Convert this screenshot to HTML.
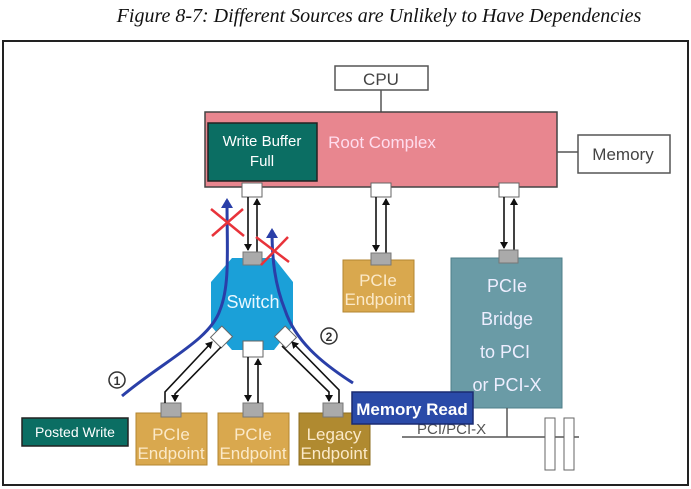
<!DOCTYPE html>
<html><head><meta charset="utf-8"><style>
html,body{margin:0;padding:0;background:#fff;}
svg{display:block;}
text{font-family:"Liberation Sans",sans-serif;}
</style></head><body>
<svg width="691" height="489" viewBox="0 0 691 489" xmlns="http://www.w3.org/2000/svg">
<defs>
<marker id="ah" markerWidth="8" markerHeight="8" refX="6" refY="4" orient="auto" markerUnits="userSpaceOnUse"><path d="M0,0 L7,4 L0,8 Z" fill="#111"/></marker>
<marker id="bh" markerWidth="12" markerHeight="12" refX="8" refY="6" orient="auto" markerUnits="userSpaceOnUse"><path d="M0,0 L10,6 L0,12 Z" fill="#2a3fa8"/></marker>
</defs>
<text x="379" y="22" text-anchor="middle" font-style="italic" font-size="20" fill="#111" style="font-family:'Liberation Serif',serif">Figure 8-7: Different Sources are Unlikely to Have Dependencies</text>
<rect x="3" y="41" width="685" height="444" fill="#fff" stroke="#222" stroke-width="2"/>
<!-- CPU -->
<rect x="335" y="66" width="93" height="24" fill="#fff" stroke="#555" stroke-width="1.5"/>
<text x="381" y="85" text-anchor="middle" font-size="17" fill="#444">CPU</text>
<line x1="381" y1="90" x2="381" y2="112" stroke="#555" stroke-width="1.5"/>
<!-- Root complex -->
<rect x="205" y="112" width="352" height="75" fill="#e8868f" stroke="#444" stroke-width="1.5"/>
<rect x="208" y="123" width="109" height="58" fill="#0b6e63" stroke="#222" stroke-width="1.5"/>
<text x="262" y="146" text-anchor="middle" font-size="15" fill="#fff">Write Buffer</text>
<text x="262" y="166" text-anchor="middle" font-size="15" fill="#fff">Full</text>
<text x="382" y="148" text-anchor="middle" font-size="17" fill="#fde">Root Complex</text>
<line x1="557" y1="152" x2="578" y2="152" stroke="#555" stroke-width="1.5"/>
<rect x="578" y="135" width="92" height="38" fill="#fff" stroke="#555" stroke-width="1.5"/>
<text x="623" y="160" text-anchor="middle" font-size="17" fill="#444">Memory</text>
<!-- root ports -->
<rect x="242" y="183" width="20" height="14" fill="#fff" stroke="#666"/>
<rect x="371" y="183" width="20" height="14" fill="#fff" stroke="#666"/>
<rect x="499" y="183" width="20" height="14" fill="#fff" stroke="#666"/>
<g stroke="#111" stroke-width="1.6">
<line x1="248" y1="197" x2="248" y2="250" marker-end="url(#ah)"/>
<line x1="257" y1="252" x2="257" y2="199" marker-end="url(#ah)"/>
<line x1="376" y1="197" x2="376" y2="251" marker-end="url(#ah)"/>
<line x1="386" y1="253" x2="386" y2="199" marker-end="url(#ah)"/>
<line x1="504" y1="197" x2="504" y2="248" marker-end="url(#ah)"/>
<line x1="514" y1="250" x2="514" y2="199" marker-end="url(#ah)"/>
</g>
<!-- middle endpoint -->
<rect x="343" y="260" width="71" height="52" fill="#d9a84e" stroke="#b38630"/>
<rect x="371" y="253" width="20" height="12" fill="#aaa" stroke="#777"/>
<text x="378" y="286" text-anchor="middle" font-size="17" fill="#fbe9c8">PCIe</text>
<text x="378" y="305" text-anchor="middle" font-size="17" fill="#fbe9c8">Endpoint</text>
<!-- bridge -->
<rect x="451" y="258" width="111" height="150" fill="#6a9ba6" stroke="#4f7f89"/>
<rect x="499" y="250" width="19" height="13" fill="#aaa" stroke="#777"/>
<g font-size="18" fill="#eef" text-anchor="middle">
<text x="507" y="292">PCIe</text><text x="507" y="325">Bridge</text><text x="505" y="358">to PCI</text><text x="507" y="391">or PCI-X</text></g>
<line x1="507" y1="408" x2="507" y2="437" stroke="#555" stroke-width="1.5"/>
<line x1="402" y1="437" x2="579" y2="437" stroke="#555" stroke-width="1.5"/>
<text x="417" y="434" font-size="15" fill="#555">PCI/PCI-X</text>
<rect x="545" y="418" width="10" height="52" fill="#fff" stroke="#666"/>
<rect x="564" y="418" width="10" height="52" fill="#fff" stroke="#666"/>
<!-- switch -->
<polygon points="232,258 274,258 293,282 293,326 274,350 232,350 211,326 211,282" fill="#1ba0d8"/>
<text x="253" y="308" text-anchor="middle" font-size="18" fill="#eaf8ff">Switch</text>
<rect x="243" y="252" width="19" height="13" fill="#aaa" stroke="#777"/>
<rect x="243" y="341" width="20" height="16" fill="#fff" stroke="#666"/>
<rect x="214" y="329" width="15" height="16" fill="#fff" stroke="#666" transform="rotate(45 221.5 337)"/>
<rect x="278" y="329" width="15" height="16" fill="#fff" stroke="#666" transform="rotate(-45 285.5 337)"/>
<!-- bottom endpoints -->
<rect x="136" y="413" width="71" height="52" fill="#d9a84e" stroke="#b38630"/>
<rect x="218" y="413" width="71" height="52" fill="#d9a84e" stroke="#b38630"/>
<rect x="299" y="413" width="71" height="52" fill="#b08a30" stroke="#8c6c1f"/>
<g font-size="17" fill="#fbe9c8" text-anchor="middle">
<text x="171" y="440">PCIe</text><text x="171" y="459">Endpoint</text>
<text x="253" y="440">PCIe</text><text x="253" y="459">Endpoint</text>
<text x="334" y="440">Legacy</text><text x="334" y="459">Endpoint</text></g>
<rect x="161" y="403" width="20" height="14" fill="#aaa" stroke="#777"/>
<rect x="243" y="403" width="20" height="14" fill="#aaa" stroke="#777"/>
<rect x="323" y="403" width="20" height="14" fill="#aaa" stroke="#777"/>
<g stroke="#111" stroke-width="1.6" fill="none">
<polyline points="165,403 165,392 212,342" marker-end="url(#ah)"/>
<polyline points="221,347 175,394 175,401" marker-end="url(#ah)"/>
<line x1="248" y1="357" x2="248" y2="401" marker-end="url(#ah)"/>
<line x1="258" y1="403" x2="258" y2="359" marker-end="url(#ah)"/>
<polyline points="282,346 329,392 329,401" marker-end="url(#ah)"/>
<polyline points="339,403 339,390 292,342" marker-end="url(#ah)"/>
</g>
<!-- blue flows -->
<path d="M122,396 C165,360 210,340 220,310 C230,285 227,250 227,200" fill="none" stroke="#2a3fa8" stroke-width="3" marker-end="url(#bh)"/>
<path d="M353,383 C320,362 295,340 285,310 C275,285 272,260 272,230" fill="none" stroke="#2a3fa8" stroke-width="3" marker-end="url(#bh)"/>
<g stroke="#e8333a" stroke-width="2.5">
<line x1="211" y1="209" x2="244" y2="236"/><line x1="243" y1="209" x2="212" y2="236"/>
<line x1="256" y1="237" x2="289" y2="262"/><line x1="288" y1="237" x2="261" y2="265"/>
</g>
<circle cx="117" cy="380" r="8" fill="#fff" stroke="#333" stroke-width="1.5"/>
<text x="117" y="385" text-anchor="middle" font-size="12" font-weight="bold" fill="#333">1</text>
<circle cx="329" cy="336" r="8" fill="#fff" stroke="#333" stroke-width="1.5"/>
<text x="329" y="341" text-anchor="middle" font-size="12" font-weight="bold" fill="#333">2</text>
<!-- labels -->
<rect x="22" y="418" width="106" height="28" fill="#0b6e63" stroke="#222" stroke-width="1.5"/>
<text x="75" y="437" text-anchor="middle" font-size="14" fill="#fff">Posted Write</text>
<rect x="352" y="392" width="121" height="32" fill="#2a4aa8" stroke="#1a2a70" stroke-width="1.5"/>
<text x="412" y="415" text-anchor="middle" font-size="17" font-weight="bold" fill="#fff">Memory Read</text>
</svg>
</body></html>
